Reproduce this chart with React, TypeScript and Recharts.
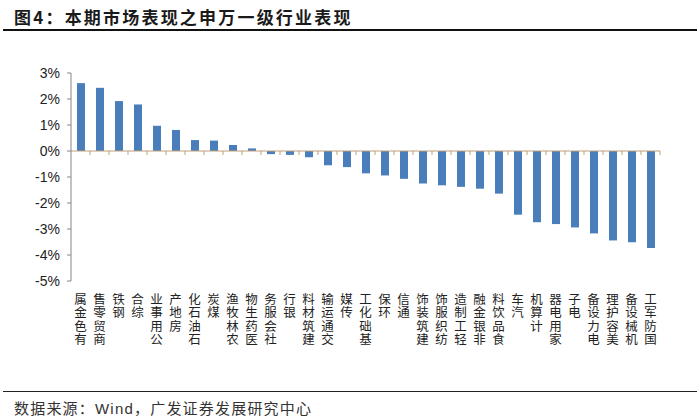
import React from 'react';
import { BarChart, Bar, XAxis, YAxis, ReferenceLine } from 'recharts';

// 申万一级行业，本期涨跌幅（%）
const industries = [
  '有色金属', '商贸零售', '钢铁', '综合', '公用事业', '房地产', '石油石化', '煤炭',
  '农林牧渔', '医药生物', '社会服务', '银行', '建筑材料', '交通运输', '传媒', '基础化工',
  '环保', '通信', '建筑装饰', '纺织服饰', '轻工制造', '非银金融', '食品饮料', '汽车',
  '计算机', '家用电器', '电子', '电力设备', '美容护理', '机械设备', '国防军工',
];
const changes = [
  2.61, 2.43, 1.92, 1.79, 0.97, 0.81, 0.42, 0.40,
  0.23, 0.10, -0.12, -0.15, -0.24, -0.55, -0.62, -0.86,
  -0.94, -1.07, -1.25, -1.32, -1.38, -1.45, -1.64, -2.45,
  -2.74, -2.81, -2.94, -3.17, -3.44, -3.51, -3.73,
];
const yTicks = [-5, -4, -3, -2, -1, 0, 1, 2, 3];

const data = industries.map((name, i) => ({ name, value: changes[i] }));

const CJK = '"Noto Sans CJK SC", "Liberation Sans", sans-serif';
const LABEL_SIZE = 12.5;

// 竖排标签：整段文字转 -90°，每个字再转回 90° 保持直立，从下往上读
function VerticalTick(props: any) {
  const { x, y, payload } = props;
  return (
    <text
      transform={`translate(${x - LABEL_SIZE / 2}, ${y + 1}) rotate(-90)`}
      x={0}
      y={0}
      rotate="90"
      textAnchor="end"
      fontSize={LABEL_SIZE}
      letterSpacing={1}
      fontFamily={CJK}
      fill="#222"
    >
      {payload.value}
    </text>
  );
}

// 0 轴线 + 分类之间的刻度线
function ZeroLine(props: any) {
  const { x1, y1, x2 } = props;
  const n = industries.length;
  const step = (x2 - x1) / n;
  return (
    <g>
      <line x1={x1} y1={y1} x2={x2} y2={y1} stroke="#BFA07A" strokeWidth={1.2} />
      {industries.map((_, i) => {
        const tx = x1 + step * (i + 1);
        return <line key={i} x1={tx} x2={tx} y1={y1} y2={y1 + 4} stroke="#BFA07A" strokeWidth={1} />;
      })}
    </g>
  );
}

export default function App() {
  return (
    <div
      style={{
        position: 'absolute',
        left: 0,
        top: 0,
        width: 700,
        height: 420,
        background: '#fff',
        overflow: 'hidden',
      }}
    >
      <div
        style={{
          position: 'absolute',
          left: 14,
          top: 4,
          fontFamily: CJK,
          fontWeight: 700,
          fontSize: 17,
          letterSpacing: 2.2,
          color: '#1a1a1a',
          whiteSpace: 'nowrap',
        }}
      >
        图4：本期市场表现之申万一级行业表现
      </div>
      <div style={{ position: 'absolute', left: 3, top: 29, width: 694, height: 2, background: '#111' }} />

      <div style={{ position: 'absolute', left: 0, top: 0 }}>
        <BarChart
          width={700}
          height={380}
          data={data}
          margin={{ top: 73, right: 40, bottom: 29, left: 11 }}
        >
          <YAxis
            width={60}
            domain={[-5, 3]}
            ticks={yTicks}
            interval={0}
            tickFormatter={(v: number) => `${v}%`}
            axisLine={{ stroke: '#868686' }}
            tickLine={{ stroke: '#868686' }}
            tickSize={4}
            tickMargin={7}
            tick={{ fill: '#222', fontSize: 14, fontFamily: '"Liberation Sans", Arial, sans-serif' }}
          />
          <XAxis
            dataKey="name"
            interval={0}
            height={70}
            axisLine={false}
            tickLine={false}
            tick={<VerticalTick />}
          />
          <Bar dataKey="value" fill="#4A7EBB" barSize={8} isAnimationActive={false} />
          <ReferenceLine y={0} shape={<ZeroLine />} />
        </BarChart>
      </div>

      <div style={{ position: 'absolute', left: 3, top: 391, width: 694, height: 1, background: '#222' }} />
      <div
        style={{
          position: 'absolute',
          left: 14,
          top: 397,
          fontFamily: CJK,
          fontSize: 15,
          letterSpacing: 1.2,
          color: '#333',
          whiteSpace: 'nowrap',
        }}
      >
        数据来源：<span style={{ fontFamily: '"Liberation Sans", Arial, sans-serif' }}>Wind</span>，广发证券发展研究中心
      </div>
    </div>
  );
}
